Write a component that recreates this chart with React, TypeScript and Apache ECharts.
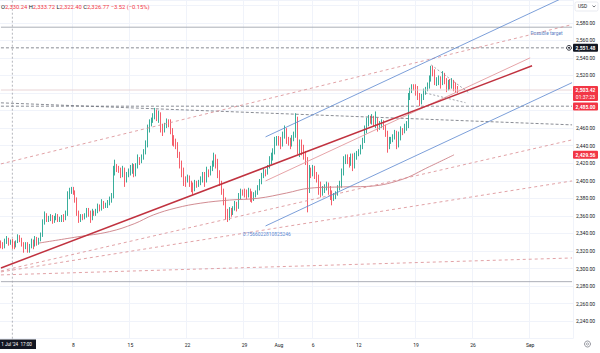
import React, { useEffect, useRef } from "react";
import * as echarts from "echarts";

// ---------- axis / categories ----------
const SLOT_COUNT = 301; // 4h slots incl. empty future space
const tickSlots = [38, 68, 98, 128, 146, 164, 188, 218, 248, 278];
const tickLabels = ["8", "15", "22", "29", "Aug", "6", "12", "19", "26", "Sep"];
const yHidden = [2220, 2480, 2500, 2600];

// ---------- 4h candles (open = previous close) ----------
const firstOpen = 2330;
const closes = [
  2328, 2325, 2331, 2333, 2329, 2330.29, 2326.77, 2326,
  2331, 2336, 2333, 2327, 2324, 2327,
  2321, 2325, 2330, 2327, 2334, 2330,
  2333, 2338, 2352, 2361, 2356, 2357,
  2359, 2354, 2357, 2360, 2355, 2356,
  2359, 2357, 2362, 2382, 2389, 2391,
  2386, 2379, 2364, 2356, 2359, 2358,
  2361, 2366, 2362, 2357, 2364, 2363,
  2366, 2370, 2369, 2375, 2371, 2372,
  2375, 2379, 2382, 2411, 2416, 2415,
  2412, 2408, 2413, 2401, 2407, 2411,
  2413, 2417, 2409, 2416, 2424, 2422,
  2427, 2432, 2441, 2459, 2466, 2469,
  2474, 2478, 2471, 2476, 2462, 2458,
  2463, 2468, 2466, 2458, 2446, 2445,
  2441, 2431, 2418, 2412, 2401, 2400,
  2404, 2398, 2394, 2390, 2397, 2396,
  2398, 2402, 2406, 2400, 2411, 2409,
  2414, 2419, 2426, 2421, 2409, 2398,
  2388, 2378, 2362, 2357, 2367, 2364,
  2369, 2373, 2371, 2382, 2389, 2387,
  2386, 2383, 2389, 2386, 2378, 2384,
  2387, 2392, 2399, 2406, 2411, 2410,
  2415, 2424, 2427, 2432, 2444, 2448,
  2445, 2441, 2452, 2458, 2447, 2446,
  2442, 2448, 2451, 2472, 2437, 2443,
  2438, 2430, 2424, 2392, 2411, 2410,
  2414, 2408, 2403, 2395, 2386, 2390,
  2393, 2396, 2389, 2385, 2380, 2382,
  2386, 2392, 2396, 2410, 2424, 2427,
  2424, 2420, 2427, 2416, 2428, 2431,
  2433, 2438, 2445, 2458, 2467, 2472,
  2468, 2472, 2466, 2470, 2463, 2465,
  2467, 2462, 2454, 2441, 2447, 2447,
  2450, 2455, 2443, 2450, 2457, 2456,
  2461, 2463, 2496, 2503, 2508, 2507,
  2505, 2498, 2489, 2496, 2502, 2504,
  2509, 2516, 2528, 2524, 2512, 2514,
  2517, 2510, 2519, 2515, 2506, 2512,
  2509, 2513, 2506, 2505, 2503.42,
];
const highs = [
  2332, 2330, 2334, 2337, 2335, 2333, 2333.72, 2331,
  2332, 2339, 2338, 2335, 2330, 2330,
  2330, 2328, 2334, 2333, 2337, 2336,
  2335, 2341, 2356, 2365, 2363, 2360,
  2362, 2361, 2360, 2363, 2362, 2359,
  2361, 2362, 2366, 2388, 2392, 2393,
  2393, 2389, 2381, 2366, 2362, 2362,
  2363, 2369, 2369, 2366, 2368, 2366,
  2368, 2374, 2373, 2379, 2377, 2375,
  2378, 2382, 2386, 2417, 2424, 2419,
  2417, 2415, 2417, 2415, 2410, 2414,
  2418, 2420, 2419, 2420, 2430, 2427,
  2430, 2436, 2446, 2464, 2470, 2472,
  2477, 2483, 2481, 2480, 2478, 2465,
  2466, 2471, 2470, 2470, 2460, 2452,
  2448, 2444, 2433, 2423, 2415, 2405,
  2407, 2406, 2400, 2398, 2401, 2400,
  2401, 2405, 2410, 2410, 2416, 2413,
  2417, 2423, 2432, 2430, 2425, 2412,
  2400, 2391, 2381, 2368, 2370, 2369,
  2371, 2377, 2376, 2386, 2391, 2390,
  2391, 2390, 2392, 2391, 2388, 2387,
  2389, 2395, 2402, 2409, 2414, 2413,
  2418, 2428, 2432, 2437, 2450, 2451,
  2451, 2450, 2456, 2463, 2460, 2450,
  2449, 2452, 2456, 2477, 2473, 2447,
  2447, 2441, 2434, 2427, 2418, 2415,
  2418, 2417, 2410, 2407, 2399, 2394,
  2396, 2399, 2398, 2394, 2389, 2386,
  2388, 2395, 2400, 2414, 2428, 2430,
  2430, 2427, 2431, 2431, 2432, 2434,
  2436, 2441, 2449, 2463, 2472, 2475,
  2474, 2476, 2474, 2479, 2472, 2468,
  2470, 2469, 2464, 2457, 2450, 2450,
  2453, 2458, 2457, 2456, 2462, 2460,
  2465, 2468, 2500, 2506, 2510, 2510,
  2510, 2508, 2500, 2499, 2505, 2507,
  2512, 2520, 2531, 2531, 2527, 2518,
  2520, 2519, 2525, 2523, 2517, 2515,
  2516, 2517, 2515, 2512, 2508,
];
const lows = [
  2323, 2322, 2323, 2328, 2326, 2327, 2322.4, 2322,
  2324, 2329, 2330, 2325, 2318, 2322,
  2318, 2318, 2323, 2322, 2325, 2326,
  2327, 2331, 2336, 2350, 2353, 2353,
  2354, 2351, 2352, 2355, 2353, 2353,
  2353, 2353, 2355, 2360, 2379, 2385,
  2384, 2375, 2360, 2352, 2353, 2355,
  2356, 2358, 2359, 2352, 2355, 2360,
  2360, 2363, 2365, 2366, 2368, 2369,
  2369, 2372, 2375, 2380, 2406, 2410,
  2409, 2403, 2404, 2393, 2398, 2404,
  2406, 2408, 2404, 2405, 2414, 2418,
  2420, 2424, 2430, 2438, 2455, 2462,
  2466, 2470, 2468, 2466, 2455, 2451,
  2455, 2460, 2461, 2453, 2440, 2439,
  2436, 2426, 2414, 2404, 2394, 2393,
  2398, 2393, 2387, 2384, 2388, 2392,
  2393, 2395, 2398, 2393, 2398, 2404,
  2406, 2411, 2416, 2414, 2403, 2394,
  2384, 2372, 2356, 2353, 2355, 2359,
  2361, 2366, 2365, 2368, 2379, 2383,
  2381, 2379, 2381, 2376, 2375, 2377,
  2381, 2384, 2389, 2396, 2403, 2405,
  2407, 2414, 2419, 2423, 2430, 2440,
  2440, 2436, 2439, 2448, 2442, 2440,
  2436, 2439, 2445, 2449, 2430, 2427,
  2429, 2424, 2418, 2364, 2386, 2403,
  2405, 2402, 2398, 2384, 2381, 2383,
  2386, 2389, 2384, 2378, 2372, 2377,
  2379, 2383, 2389, 2392, 2406, 2419,
  2419, 2415, 2417, 2411, 2414, 2424,
  2428, 2430, 2436, 2443, 2454, 2462,
  2465, 2464, 2462, 2460, 2456, 2458,
  2460, 2458, 2450, 2432, 2436, 2442,
  2444, 2447, 2436, 2438, 2446, 2452,
  2454, 2457, 2460, 2492, 2500, 2503,
  2497, 2492, 2485, 2487, 2492, 2498,
  2502, 2505, 2513, 2519, 2509, 2508,
  2509, 2505, 2509, 2510, 2501, 2503,
  2504, 2505, 2502, 2500, 2500,
];

// ---------- moving average ----------
const maSlots = [20, 40, 57, 70, 80, 92, 105, 120, 135, 150, 162, 180, 192, 210, 225, 238];
const maValues = [2329, 2336, 2342, 2351, 2361, 2369, 2374.5, 2378, 2380, 2386, 2391.5, 2393, 2393.5, 2401, 2416, 2429.56];

// ---------- drawings: [slotA, priceA, slotB, priceB] ----------
const thickTrend = [0, 2300.6, 279, 2531];
const channelMid = [139, 2399.8, 278, 2540.1];
const channelTop = [139, 2450, 300, 2613.3];
const channelBottom = [139, 2348.5, 300, 2511.8];
const upperDashed = [0, 2419.2, 300, 2578];
const fan1 = [0, 2297.2, 300, 2446.6];
const fan2 = [0, 2296.1, 300, 2399.8];
const fan3 = [0, 2292.7, 300, 2312.0];
const topDescending = [0, 2488.8, 300, 2463.7];
const wedgeTop = [226, 2532, 246, 2500];
const wedgeBottom = [223, 2500, 244, 2489];

// horizontal levels
const targetLevel = 2575;
const lowLevel = 2285;
const dashedLevels = [2551.48, 2485];
const lastPrice = 2503.42;
const maLast = 2429.56;
const countdown = "01:37:23";
const crosshairSlot = 6;
const crosshairLabel = "1 Jul '24  17:00";
const headerLabels = ["O", "H", "L", "C"];
const headerValues = ["2,330.24", "2,333.72", "2,322.40", "2,326.77"];
const headerChange = "\u22123.52 (\u22120.15%)";
const fibText = "0.7566022810825246";

const UP = "#089981";
const DOWN = "#f23645";
const FONT = "Roboto";
const GRID_RIGHT = 27;
const LAST_SLOT = SLOT_COUNT - 1;

const fmt = (v: number) =>
  v.toLocaleString("en-US", { minimumFractionDigits: 2, maximumFractionDigits: 2 });

function seg(a: number[], color: string, width: number, dash?: number[]) {
  return {
    type: "line",
    data: [
      [a[0], a[1]],
      [a[2], a[3]],
    ],
    symbol: "none",
    silent: true,
    clip: true,
    z: 4,
    lineStyle: { color, width, type: dash ? dash : "solid" },
  };
}
function hline(p: number, color: string, width: number, dash?: number[]) {
  return seg([0, p, LAST_SLOT, p], color, width, dash);
}

export default function App() {
  const ref = useRef<HTMLDivElement>(null);

  useEffect(() => {
    document.body.style.margin = "0";
    const chart = echarts.init(ref.current!, undefined, { renderer: "svg" });
    const categories = Array.from({ length: SLOT_COUNT }, (_, i) => String(i));
    const tickMap = new Map<number, string>(tickSlots.map((s, i) => [s, tickLabels[i]]));
    const candles = closes.map((c, i) => [i === 0 ? firstOpen : closes[i - 1], c, lows[i], highs[i]]);

    const option: any = {
      animation: false,
      backgroundColor: "#ffffff",
      grid: { left: 0, right: GRID_RIGHT, top: 0, bottom: 14.3, containLabel: false, outerBoundsMode: "none" },
      xAxis: {
        type: "category",
        data: categories,
        boundaryGap: true,
        axisLine: { show: false },
        axisTick: { show: false },
        axisLabel: {
          interval: (i: number) => tickMap.has(i),
          formatter: (v: string) => tickMap.get(Number(v)) ?? "",
          fontSize: 5,
          color: "#131722",
          fontFamily: FONT,
          margin: 3.5,
        },
        splitLine: {
          show: true,
          interval: (i: number) => tickMap.has(i),
          lineStyle: { color: "#f0f3fa", width: 1 },
        },
      },
      yAxis: {
        type: "value",
        position: "right",
        min: 2220,
        max: 2606,
        interval: 20,
        axisLine: { show: false },
        axisTick: { show: false },
        axisLabel: {
          formatter: (v: number) => (yHidden.includes(v) || v % 20 !== 0 ? "" : fmt(v)),
          fontSize: 5,
          color: "#131722",
          fontFamily: FONT,
          margin: 3,
        },
        splitLine: { lineStyle: { color: "#f0f3fa", width: 1 } },
      },
      series: [
        hline(lastPrice, "#e3c9cb", 0.8),
        {
          type: "line",
          data: [
            [crosshairSlot, 2220],
            [crosshairSlot, 2606],
          ],
          symbol: "none",
          silent: true,
          z: 1,
          lineStyle: { color: "#9598a1", width: 0.7, type: [2, 2] },
        },
        {
          type: "candlestick",
          data: candles,
          barWidth: "60%",
          z: 2,
          itemStyle: {
            color: UP,
            color0: DOWN,
            borderColor: UP,
            borderColor0: DOWN,
            borderWidth: 0.8,
          },
        },
        {
          type: "line",
          data: maSlots.map((s, i) => [s, maValues[i]]),
          symbol: "none",
          smooth: 0.4,
          silent: true,
          z: 3,
          lineStyle: { color: "#cc7f86", width: 0.9 },
        },
        hline(targetLevel, "#a3a6af", 0.9),
        hline(lowLevel, "#a3a6af", 0.9),
        ...dashedLevels.map((p) => hline(p, "#6b6e78", 0.8, [3, 2])),
        seg(topDescending, "#6b6e78", 0.8, [3, 2]),
        seg(upperDashed, "#d98a8f", 0.8, [3, 3]),
        seg(fan1, "#d98a8f", 0.8, [3, 3]),
        seg(fan2, "#d98a8f", 0.8, [3, 3]),
        seg(fan3, "#d98a8f", 0.8, [3, 3]),
        seg(channelTop, "#5b86cf", 0.8),
        seg(channelBottom, "#5b86cf", 0.8),
        seg(channelMid, "#e39a9e", 0.9),
        seg(thickTrend, "#c0323f", 1.5),
        seg(wedgeTop, "#7b7e88", 0.7, [2, 2]),
        seg(wedgeBottom, "#7b7e88", 0.7, [2, 2]),
      ],
    };
    chart.setOption(option);

    const W = chart.getWidth();
    const axisX = W - GRID_RIGHT;
    const yOf = (p: number) => chart.convertToPixel({ yAxisIndex: 0 }, p) as number;
    const xyOf = (s: number, p: number) => chart.convertToPixel({ gridIndex: 0 }, [s, p]) as number[];

    const txt = (x: number, y: number, text: string, fill: string, size: number, align = "left", extra: any = {}) => ({
      type: "text",
      z: 101,
      silent: true,
      style: {
        x,
        y,
        text,
        fill,
        fontSize: size,
        fontFamily: FONT,
        align,
        textAlign: align,
        verticalAlign: "middle",
        textVerticalAlign: "middle",
        ...extra,
      },
    });
    const box = (y: number, h: number, fill: string) => ({
      type: "rect",
      z: 100,
      silent: true,
      shape: { x: axisX, y, width: 25, height: h, r: 1 },
      style: { fill },
    });

    const g: any[] = [];
    // header
    const headerText =
      headerLabels.map((l, i) => `{l|${l}}{v|${headerValues[i]}}`).join(" ") + ` {v|${headerChange}}`;
    g.push(
      txt(1, 7, headerText, "#131722", 5.8, "left", {
        rich: {
          l: { fill: "#131722", fontSize: 5.8, fontFamily: FONT },
          v: { fill: DOWN, fontSize: 5.8, fontFamily: FONT },
        },
      })
    );
    // possible target
    const pt = xyOf(295, targetLevel);
    g.push(txt(pt[0], pt[1] + 6, "Possible target", "#5b7fc4", 4.8, "right"));
    // fib text
    const ft = xyOf(127, 2339.4);
    g.push(txt(ft[0], ft[1], fibText, "#5b86cf", 4.9, "left"));

    // price labels on the axis
    const y1 = yOf(dashedLevels[0]);
    g.push(box(y1 - 4, 8, "#131722"));
    g.push(txt(axisX + 12.5, y1, fmt(dashedLevels[0]), "#ffffff", 5, "center", { fontWeight: "bold" }));
    g.push({
      type: "circle",
      z: 100,
      silent: true,
      shape: { cx: axisX - 4, cy: y1, r: 2.4 },
      style: { fill: "#ffffff", stroke: "#131722", lineWidth: 0.8 },
    });
    g.push({
      type: "circle",
      z: 101,
      silent: true,
      shape: { cx: axisX - 4, cy: y1, r: 0.9 },
      style: { fill: "#131722" },
    });

    const y2 = yOf(lastPrice);
    g.push(box(y2 - 4, 15, DOWN));
    g.push(txt(axisX + 12.5, y2, fmt(lastPrice), "#ffffff", 5, "center", { fontWeight: "bold" }));
    g.push(txt(axisX + 12.5, y2 + 6.8, countdown, "#ffffff", 5, "center"));

    const y3 = yOf(dashedLevels[1]);
    g.push(box(y3 - 3.6, 8, DOWN));
    g.push(txt(axisX + 12.5, y3 + 0.4, fmt(dashedLevels[1]), "#ffffff", 5, "center", { fontWeight: "bold" }));

    const y4 = yOf(maLast);
    g.push(box(y4 - 4, 8, DOWN));
    g.push(txt(axisX + 12.5, y4, fmt(maLast), "#ffffff", 5, "center", { fontWeight: "bold" }));

    // USD box
    g.push({
      type: "rect",
      z: 100,
      silent: true,
      shape: { x: 575, y: 2, width: 23, height: 9, r: 1.5 },
      style: { fill: "#ffffff", stroke: "#e0e3eb", lineWidth: 0.7 },
    });
    g.push(txt(578, 6.6, "USD", "#131722", 4.8, "left"));
    g.push({
      type: "polyline",
      z: 101,
      silent: true,
      shape: { points: [[592.5, 5.6], [594, 7], [595.5, 5.6]] },
      style: { stroke: "#131722", lineWidth: 0.6, fill: "none" },
    });

    // crosshair time label
    const cx = xyOf(crosshairSlot, 2300)[0];
    const bx = Math.max(0, cx - 18);
    g.push({
      type: "rect",
      z: 100,
      silent: true,
      shape: { x: bx, y: 339.5, width: 36, height: 9.5 },
      style: { fill: "#131722" },
    });
    g.push(txt(bx + 1.2, 344.3, crosshairLabel, "#ffffff", 4.6, "left"));

    // bottom-right settings icon
    g.push({
      type: "circle",
      z: 100,
      silent: true,
      shape: { cx: 587.5, cy: 344, r: 3 },
      style: { fill: "#ffffff", stroke: "#6a6d78", lineWidth: 0.7 },
    });
    g.push({
      type: "circle",
      z: 101,
      silent: true,
      shape: { cx: 587.5, cy: 344, r: 1.1 },
      style: { fill: "none", stroke: "#6a6d78", lineWidth: 0.6 },
    });

    chart.setOption({ graphic: g });

    return () => chart.dispose();
  }, []);

  return (
    <div
      ref={ref}
      style={{ position: "absolute", left: 0, top: 0, width: 600, height: 353, background: "#fff" }}
    />
  );
}
